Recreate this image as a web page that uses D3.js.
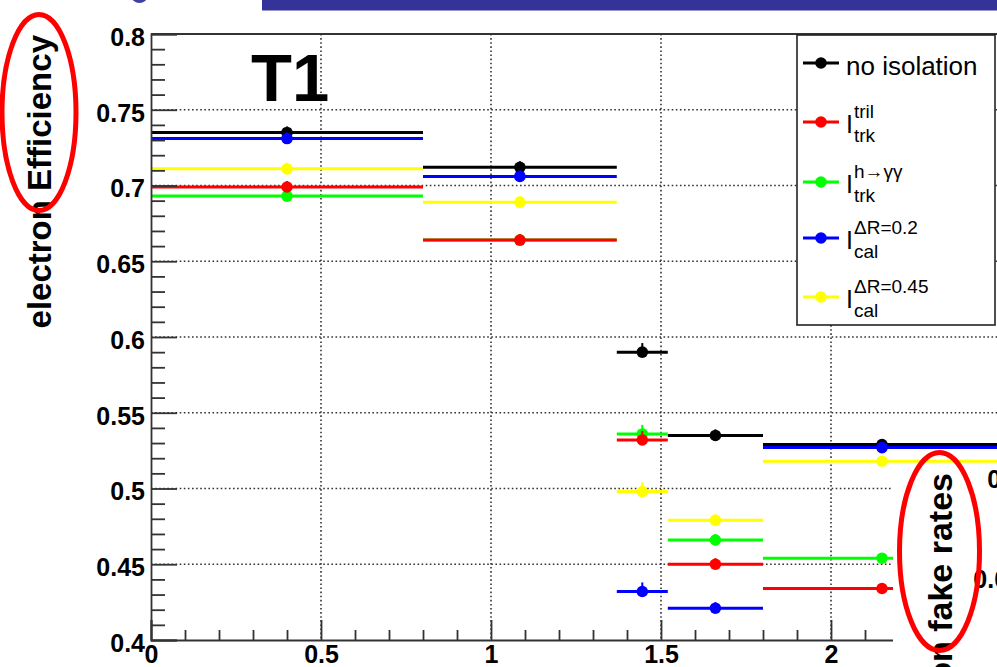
<!DOCTYPE html>
<html>
<head>
<meta charset="utf-8">
<script src="https://cdn.jsdelivr.net/npm/d3@7/dist/d3.min.js"></script>
<style>
  html, body { margin: 0; padding: 0; background: #fff; }
  svg { display: block; }
  text { font-family: "Liberation Sans", Arial, Helvetica, sans-serif; }
</style>
</head>
<body>
<svg id="chart" width="997" height="667"></svg>
<script>
// ---------------- DATA ----------------
const binEdges   = [0, 0.8, 1.37, 1.52, 1.8, 2.5];
const binCenters = [0.4, 1.085, 1.445, 1.66, 2.15];

const noIsolation = [0.735, 0.712, 0.590, 0.535, 0.529];
const trkTril     = [0.699, 0.664, 0.532, 0.450, 0.434];
const trkHgg      = [0.693, 0.664, 0.536, 0.466, 0.454];
const calDR02     = [0.731, 0.706, 0.432, 0.421, 0.527];
const calDR045    = [0.711, 0.689, 0.498, 0.479, 0.518];

const errUp   = [0.004, 0.004, 0.006, 0.004, 0.003];
const errDown = [0.002, 0.002, 0.002, 0.002, 0.002];

const seriesNames  = ["no isolation", "trk tril", "trk hgg", "cal dR0.2", "cal dR0.45"];
const seriesColors = ["#000000", "#ff0000", "#00ff00", "#0000ff", "#ffff00"];
const seriesValues = [noIsolation, trkTril, trkHgg, calDR02, calDR045];
// drawing order (index into series)
const drawOrder = [0, 2, 1, 3, 4];

const legendLabels = [
  { main: "no isolation" },
  { main: "I", sup: "tril", sub: "trk" },
  { main: "I", sup: "h\u2192\u03b3\u03b3", sub: "trk" },
  { main: "I", sup: "\u0394R=0.2", sub: "cal" },
  { main: "I", sup: "\u0394R=0.45", sub: "cal" }
];

const yMajorTicks = [0.4, 0.45, 0.5, 0.55, 0.6, 0.65, 0.7, 0.75, 0.8];
const yTickLabels = ["0.4", "0.45", "0.5", "0.55", "0.6", "0.65", "0.7", "0.75", "0.8"];
const xMajorTicks = [0, 0.5, 1, 1.5, 2];
const xTickLabels = ["0", "0.5", "1", "1.5", "2"];
const yTitle = "electron Efficiency";
const panelLabel = "T1";
const otherTitle = "electron fake rates";
const otherTickValues = ["0.1", "0.05"];

// ---------------- LAYOUT ----------------
const svg = d3.select("#chart");
svg.append("rect").attr("width", 997).attr("height", 667).attr("fill", "#fff");

const x = d3.scaleLinear().domain([0, 2.5]).range([151, 1001]);
const y = d3.scaleLinear().domain([0.4, 0.8]).range([640, 34]);

const yMinor = d3.range(40, 81).map(d => d / 100).filter(v => Math.round(v * 100) % 5 !== 0);
const xMinor = d3.range(1, 25).map(d => d / 10).filter(v => Math.round(v * 10) % 5 !== 0);

// grid
const grid = svg.append("g");
grid.selectAll(".gx").data(xMajorTicks.filter(v => v > 0)).join("line")
  .attr("x1", d => x(d)).attr("x2", d => x(d))
  .attr("y1", y(0.8)).attr("y2", y(0.4))
  .attr("stroke", "#333").attr("stroke-width", 1.6).attr("stroke-dasharray", "1.6 2.5");
grid.selectAll(".gy").data(yMajorTicks.filter(v => v > 0.41 && v < 0.79)).join("line")
  .attr("x1", x(0)).attr("x2", x(2.5))
  .attr("y1", d => y(d)).attr("y2", d => y(d))
  .attr("stroke", "#333").attr("stroke-width", 1.6).attr("stroke-dasharray", "1.6 2.5");

// data
const dataG = svg.append("g");
drawOrder.forEach(si => {
  const vals = seriesValues[si];
  const col = seriesColors[si];
  const g = dataG.append("g");
  const pts = vals.map((v, i) => ({ v, i }));
  g.selectAll("line.h").data(pts).join("line")
    .attr("x1", d => x(binEdges[d.i])).attr("x2", d => x(binEdges[d.i + 1]))
    .attr("y1", d => y(d.v)).attr("y2", d => y(d.v))
    .attr("stroke", col).attr("stroke-width", 3);
  g.selectAll("line.v").data(pts).join("line")
    .attr("x1", d => x(binCenters[d.i])).attr("x2", d => x(binCenters[d.i]))
    .attr("y1", d => y(d.v - errDown[d.i])).attr("y2", d => y(d.v + errUp[d.i]))
    .attr("stroke", col).attr("stroke-width", 2);
  g.selectAll("circle").data(pts).join("circle")
    .attr("cx", d => x(binCenters[d.i])).attr("cy", d => y(d.v))
    .attr("r", 5.8).attr("fill", col);
});

// frame
svg.append("line").attr("x1", x(0)).attr("x2", x(2.5)).attr("y1", y(0.8)).attr("y2", y(0.8))
  .attr("stroke", "#333").attr("stroke-width", 1.8);
svg.append("line").attr("x1", x(2.5)).attr("x2", x(2.5)).attr("y1", y(0.8)).attr("y2", y(0.4))
  .attr("stroke", "#333").attr("stroke-width", 1.8);

// axes
const tickFont = g => g.selectAll("text")
  .attr("font-size", 25).attr("font-weight", "bold").attr("fill", "#000")
  .attr("font-family", "'Liberation Sans', Arial, Helvetica, sans-serif");

const yAxisMinor = svg.append("g").attr("transform", `translate(${x(0)},0)`)
  .call(d3.axisLeft(y).tickValues(yMinor).tickSize(-14).tickFormat(""));
yAxisMinor.select(".domain").remove();
const yAxis = svg.append("g").attr("transform", `translate(${x(0)},0)`)
  .call(d3.axisLeft(y).tickValues(yMajorTicks).tickSize(-26).tickPadding(6)
    .tickFormat((d, i) => yTickLabels[i]));
yAxis.call(tickFont);
yAxis.selectAll("text").attr("dy", "0.45em");

const xAxisMinor = svg.append("g").attr("transform", `translate(0,${y(0.4)})`)
  .call(d3.axisBottom(x).tickValues(xMinor).tickSize(-10).tickFormat(""));
xAxisMinor.select(".domain").remove();
const xAxis = svg.append("g").attr("transform", `translate(0,${y(0.4)})`)
  .call(d3.axisBottom(x).tickValues(xMajorTicks).tickSize(-20).tickPadding(5)
    .tickFormat((d, i) => xTickLabels[i]));
xAxis.call(tickFont);

svg.selectAll(".tick line").attr("stroke", "#333").attr("stroke-width", 1.8);
svg.selectAll(".domain").attr("stroke", "#333").attr("stroke-width", 1.8);

// y title
svg.append("text")
  .attr("transform", "translate(51,35) rotate(-90)")
  .attr("text-anchor", "end")
  .attr("font-size", 33).attr("font-weight", "bold").attr("fill", "#000")
  .text(yTitle);

// panel label
svg.append("text").attr("x", 251).attr("y", 101)
  .attr("font-size", 67).attr("font-weight", "bold").attr("fill", "#000")
  .text(panelLabel);

// legend
const lg = svg.append("g");
lg.append("rect").attr("x", 797).attr("y", 35).attr("width", 198).attr("height", 290)
  .attr("fill", "#fff").attr("stroke", "#222").attr("stroke-width", 1.6);
const legendY = [63, 122, 182, 238, 297];
legendLabels.forEach((lab, i) => {
  const cy = legendY[i];
  const col = seriesColors[i];
  lg.append("line").attr("x1", 803).attr("x2", 839).attr("y1", cy).attr("y2", cy)
    .attr("stroke", col).attr("stroke-width", 3);
  lg.append("circle").attr("cx", 821).attr("cy", cy).attr("r", 5.8).attr("fill", col);
  if (!lab.sup) {
    lg.append("text").attr("x", 846).attr("y", cy + 12)
      .attr("font-size", 26).attr("fill", "#000").text(lab.main);
  } else {
    lg.append("text").attr("x", 846).attr("y", cy + 11)
      .attr("font-size", 25).attr("fill", "#000").text(lab.main);
    lg.append("text").attr("x", 854).attr("y", cy - 4)
      .attr("font-size", 19).attr("fill", "#000").text(lab.sup);
    lg.append("text").attr("x", 854).attr("y", cy + 19.5)
      .attr("font-size", 19).attr("fill", "#000").text(lab.sub);
  }
});

// overlapping second plot (cropped)
svg.append("rect").attr("x", 893).attr("y", 465).attr("width", 120).attr("height", 210).attr("fill", "#fff");
svg.append("text")
  .attr("transform", "translate(952,473) rotate(-90)")
  .attr("text-anchor", "end")
  .attr("font-size", 34).attr("font-weight", "bold").attr("fill", "#000")
  .text(otherTitle);
const otherY = [488, 588];
otherTickValues.forEach((t, i) => {
  svg.append("text").attr("x", 1022).attr("y", otherY[i]).attr("text-anchor", "end")
    .attr("font-size", 25).attr("font-weight", "bold").attr("fill", "#000").text(t);
});

// annotation ellipses
svg.append("ellipse").attr("cx", 39).attr("cy", 112.5).attr("rx", 37).attr("ry", 98)
  .attr("fill", "none").attr("stroke", "#ff0000").attr("stroke-width", 5);
svg.append("ellipse").attr("cx", 939.5).attr("cy", 551.5).attr("rx", 40).attr("ry", 99)
  .attr("fill", "none").attr("stroke", "#ff0000").attr("stroke-width", 5);

// slide decoration: top bar and logo fragment
svg.append("rect").attr("x", 262).attr("y", 0).attr("width", 740).attr("height", 10.5).attr("fill", "#333399");
svg.append("ellipse").attr("cx", 139.5).attr("cy", -4).attr("rx", 8).attr("ry", 7).attr("fill", "#4040a0");
</script>
</body>
</html>
